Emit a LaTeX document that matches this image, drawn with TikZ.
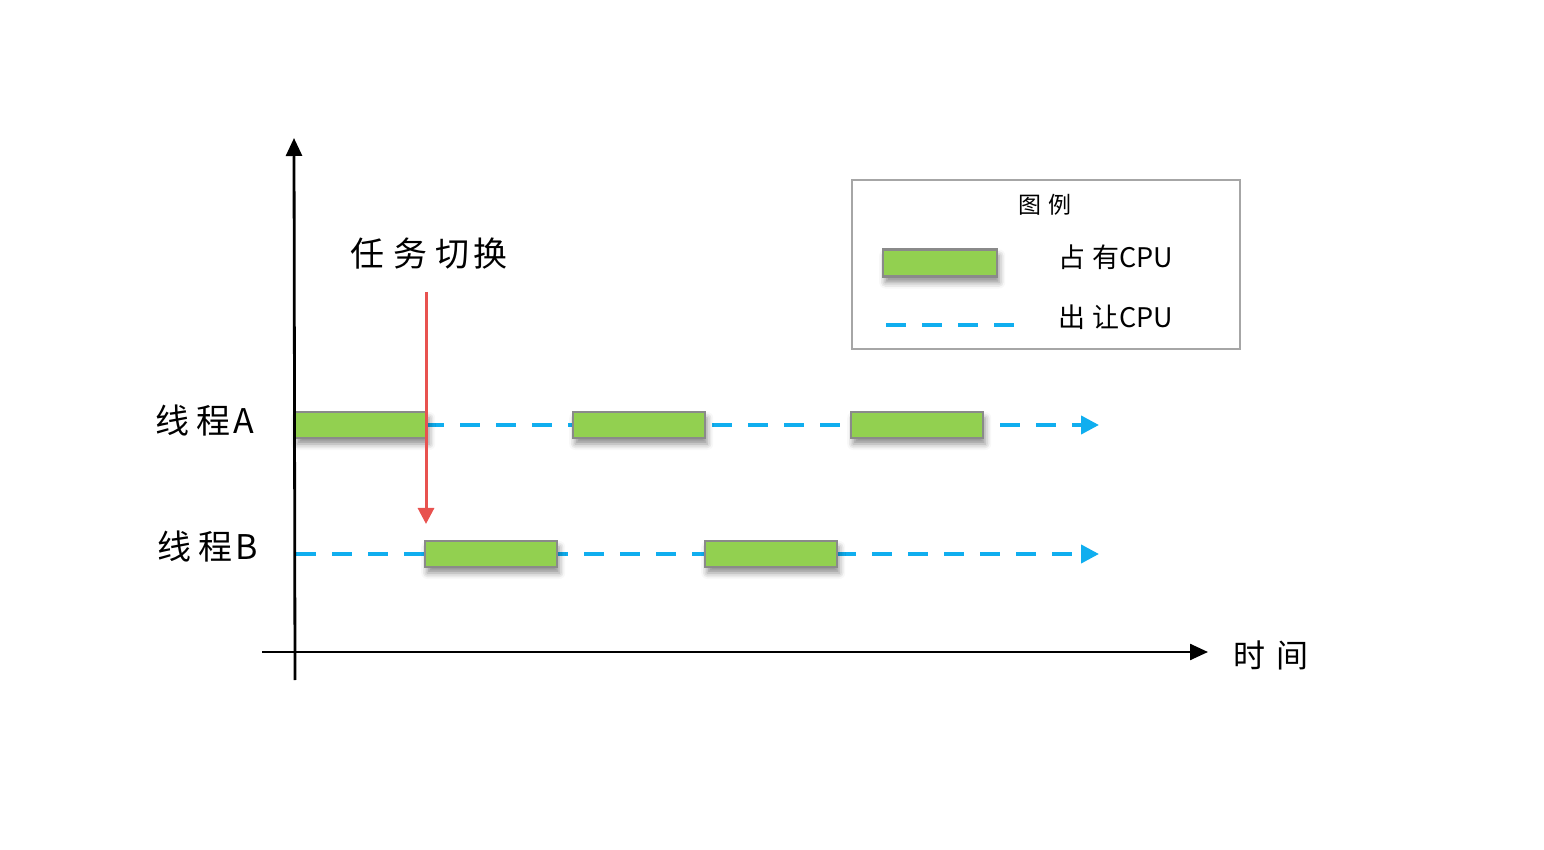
\documentclass[tikz,border=0pt]{standalone}
\usepackage{fontspec}
\setmainfont{Noto Sans CJK SC}
\usetikzlibrary{arrows.meta,shadows.blur}
\definecolor{barg}{HTML}{92D050}
\definecolor{barb}{HTML}{8A8A8A}
\definecolor{dblue}{HTML}{10AEEF}
\definecolor{sred}{HTML}{E8524F}
\tikzset{
  cpubar/.style={draw=barb, line width=1.2pt, fill=barg, minimum width=66pt, minimum height=13pt, inner sep=0pt, anchor=west,
    blur shadow={shadow xshift=1pt, shadow yshift=-3pt, shadow blur radius=3pt, shadow opacity=45}},
  yield/.style={draw=dblue, line width=2pt, dash pattern=on 10pt off 8pt},
  yieldarr/.style={yield, -{Triangle[length=9pt,width=9pt]}},
  axis/.style={draw=black, line width=1.4pt, -{Triangle[length=9pt,width=8pt]}},
  lbl/.style={font=\fontsize{17}{20}\selectfont, inner sep=0pt},
  small/.style={font=\fontsize{13.5}{16}\selectfont, inner sep=0pt},
}
\begin{document}
\begin{tikzpicture}[x=0.5pt,y=-0.5pt]
\useasboundingbox (0,0) rectangle (1544,850);
% axes
\coordinate (yb) at (295,680);
\coordinate (yt) at (294,138);
\coordinate (xl) at (262,652);
\coordinate (xr) at (1208,652);
% dashed lines
\coordinate (a0) at (296,425);
\coordinate (aE) at (1099,425);
\coordinate (b0) at (296,554);
\coordinate (bE) at (1099,554);
\draw[yield] (a0) -- (424,425);
\draw[yieldarr] (424,425) -- (aE);
\draw[yieldarr] (b0) -- (bE);
% bars
\node[cpubar] (A1) at (294,425) {};
\node[cpubar] (A2) at (572,425) {};
\node[cpubar] (A3) at (850,425) {};
\node[cpubar] (B1) at (424,554) {};
\node[cpubar] (B2) at (704,554) {};
\draw[axis] (yb) -- (yt);
\draw[axis, line width=1.2pt] (xl) -- (xr);
% red arrow
\coordinate (rs) at (426,292);
\coordinate (re) at (426,524);
\draw[sred, line width=1.5pt, -{Triangle[length=8pt,width=8pt]}] (rs) -- (re);
% labels
\node[lbl] (sw) at (429,254) {任\hspace{0.25em}务\hspace{0.25em}切\hspace{0.1em}换};
\node[lbl] (ta) at (205,421) {线\hspace{0.2em}程\hspace{0.1em}A};
\node[lbl] (tb) at (208,547) {线\hspace{0.2em}程\hspace{0.1em}B};
\node[lbl, font=\fontsize{16}{19}\selectfont] (tm) at (1271,655) {时\hspace{0.35em}间};
% legend
\node[draw=black!35, line width=0.8pt, minimum width=194pt, minimum height=84.5pt, inner sep=0pt, anchor=north west] (lg) at (851,179) {};
\node[small, font=\fontsize{11.5}{13}\selectfont] (lt) at (1045,205) {图\hspace{0.3em}例};
\node[cpubar, minimum width=57pt, minimum height=13.5pt] (lbar) at (882,263) {};
\node[small] (l1) at (1116,257) {占\hspace{0.25em}有CPU};
\coordinate (ld0) at (886,325);
\coordinate (ld1) at (1014,325);
\draw[yield] (ld0) -- (ld1);
\node[small] (l2) at (1116,317) {出\hspace{0.25em}让CPU};
\end{tikzpicture}
\end{document}
